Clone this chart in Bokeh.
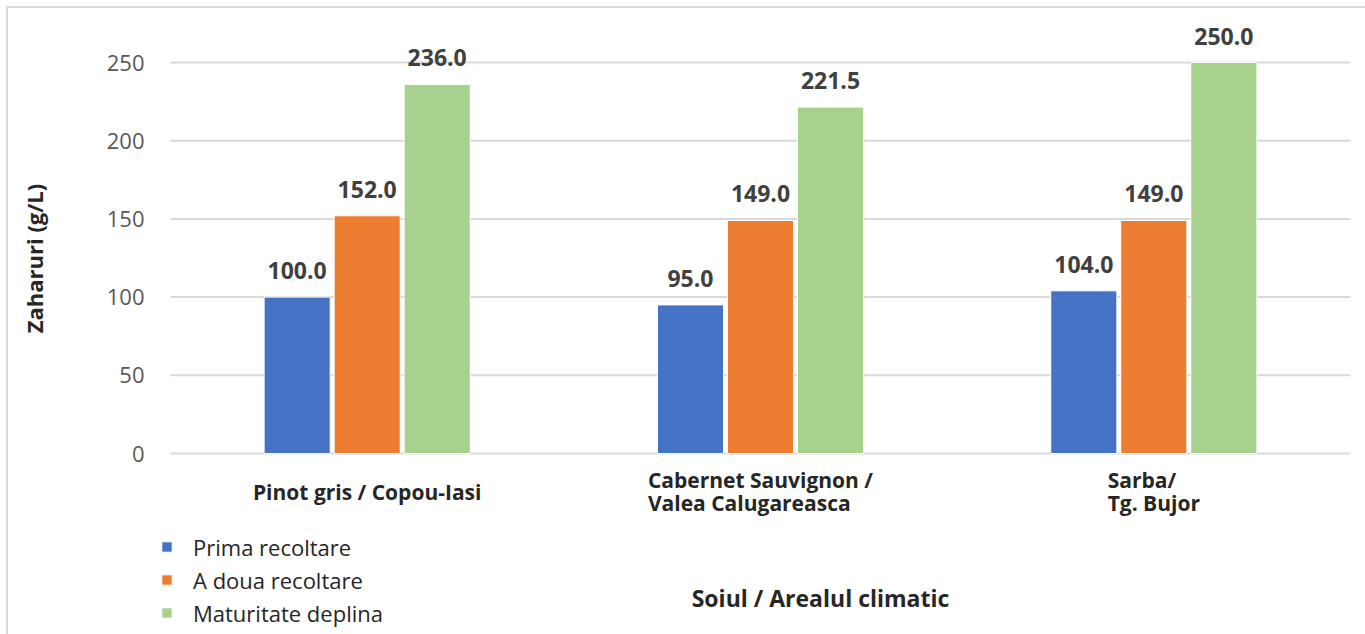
from bokeh.plotting import figure
from bokeh.models import (ColumnDataSource, FixedTicker, Legend, LegendItem,
                          LabelSet, Label, Range1d)
from bokeh.layouts import row
from bokeh.core.properties import value
from bokeh.transform import dodge
from bokeh.embed import file_html
from bokeh.resources import INLINE
import math

# ---- data ----
categories = ["Pinot gris / Copou-Iasi",
              "Cabernet Sauvignon /\nValea Calugareasca",
              "Sarba/\nTg. Bujor"]
series_names = ["Prima recoltare", "A doua recoltare", "Maturitate deplina"]
prima = [100.0, 95.0, 104.0]
a_doua = [152.0, 149.0, 149.0]
maturitate = [236.0, 221.5, 250.0]
y_ticks = [0, 50, 100, 150, 200, 250]
y_title = "Zaharuri (g/L)"
x_title = "Soiul / Arealul climatic"

colors = ["#4472C4", "#ED7D31", "#A9D18E"]
FONT = "Open Sans"

n = len(categories)
src = ColumnDataSource(dict(
    xc=[i + 0.5 for i in range(n)],
    label=categories,
    prima=prima, a_doua=a_doua, maturitate=maturitate,
    prima_t=[f"{v:.1f}" for v in prima],
    a_doua_t=[f"{v:.1f}" for v in a_doua],
    maturitate_t=[f"{v:.1f}" for v in maturitate],
))

H = 626
# narrow strip holding the vertical axis title
pt = figure(width=50, height=H, x_range=Range1d(0, 1), y_range=Range1d(0, 1),
            output_backend="svg", toolbar_location=None,
            min_border_left=0, min_border_right=0, min_border_top=0, min_border_bottom=0)
pt.axis.visible = False
pt.grid.visible = False
pt.outline_line_color = None
pt.add_layout(Label(x=25, y=376, x_units="screen", y_units="screen", text=y_title,
                    angle=math.pi / 2, text_align="center", text_baseline="middle",
                    text_font=FONT, text_font_style="bold", text_font_size="22px",
                    text_color="#262626"))

# plot area: category band [0, n] spans 1180 px, value 0..250 spans 391 px
px_x = 1180 / n
px_y = 391 / 250
p = figure(width=1307, height=H,
           x_range=Range1d(-20 / px_x, n + 15 / px_x),
           y_range=Range1d(-181 / px_y, 250 + 54 / px_y),
           output_backend="svg", toolbar_location=None,
           min_border_left=92, min_border_right=0, min_border_top=0,
           min_border_bottom=0)
p.outline_line_color = None
p.background_fill_color = "white"
p.border_fill_color = "white"
p.xaxis.visible = False
p.xgrid.visible = False
p.ygrid.visible = False

# gridlines
p.segment(x0=0, x1=n, y0=y_ticks, y1=y_ticks, line_color="#d9d9d9", line_width=2)

offs = [-0.178, 0.0, 0.178]
fields = ["prima", "a_doua", "maturitate"]
bw = 0.168
renderers = []
for f, o, c in zip(fields, offs, colors):
    r = p.vbar(x=dodge("xc", o), top=f, width=bw, bottom=0,
               source=src, fill_color=c, line_color="white", line_width=1)
    renderers.append(r)
    ls = LabelSet(x=dodge("xc", o), y=f, text=f + "_t", source=src,
                  text_align="center", text_baseline="alphabetic", y_offset=18,
                  text_font=value(FONT), text_font_style="bold",
                  text_font_size=value("23px"), text_color="#404040")
    p.add_layout(ls)

# y axis
p.yaxis.ticker = FixedTicker(ticks=y_ticks)
p.yaxis.axis_line_color = None
p.yaxis.major_tick_line_color = None
p.yaxis.minor_tick_line_color = None
p.yaxis.major_label_standoff = 0
p.yaxis.major_label_text_font = FONT
p.yaxis.major_label_text_font_size = "22px"
p.yaxis.major_label_text_color = "#595959"

# category labels
cl = LabelSet(x="xc", y=143, y_units="screen", text="label", source=src,
              text_align="center", text_baseline="middle", text_line_height=0.84,
              text_font=value(FONT), text_font_style="bold",
              text_font_size=value("21px"), text_color="#262626")
p.add_layout(cl)

# x title
p.add_layout(Label(x=670, y=37, x_units="screen", y_units="screen", text=x_title,
                   text_align="center", text_baseline="middle", text_font=FONT,
                   text_font_style="bold", text_font_size="23px", text_color="#262626"))

legend = Legend(items=[LegendItem(label=s, renderers=[r]) for s, r in zip(series_names, renderers)],
                location=(10, 5), orientation="vertical",
                glyph_width=13, glyph_height=13, label_height=33, spacing=0,
                label_standoff=20, padding=0, margin=0,
                border_line_color=None, background_fill_alpha=0,
                label_text_font=FONT, label_text_font_size="22px",
                label_text_color="#262626")
p.add_layout(legend, "center")

layout = row(pt, p, spacing=0)
layout.styles = {"margin-left": "6px", "margin-top": "6px",
                 "border-left": "2px solid #d9d9d9", "border-top": "2px solid #d9d9d9"}

open("out.html", "w").write(file_html(layout, INLINE))
